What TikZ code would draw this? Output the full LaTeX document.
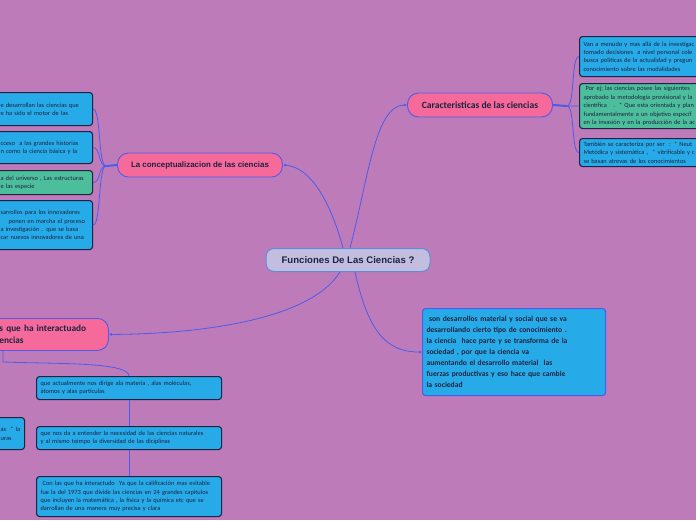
\documentclass[tikz,border=0pt]{standalone}
\usepackage{fontspec}
\setmainfont{Carlito}
\newfontfamily\arialfont{Liberation Sans}
\usetikzlibrary{arrows.meta}
\usetikzlibrary{calc}

\definecolor{bgmauve}{HTML}{BE7BBA}
\definecolor{boxblue}{HTML}{27ABE8}
\definecolor{boxgreen}{HTML}{4DBE9B}
\definecolor{topicpink}{HTML}{F56A9B}
\definecolor{rootfill}{HTML}{C3BEDF}
\definecolor{rootline}{HTML}{5A8ED8}
\definecolor{linkblue}{HTML}{4C5CEA}
\definecolor{inkdark}{HTML}{1D2340}

\begin{document}
\begin{tikzpicture}[x=1pt, y=-1pt,
  box/.style={draw=inkdark, line width=1.1pt, rounded corners=3pt, fill=boxblue, anchor=north west, align=left, inner xsep=4pt, inner ysep=2pt, text=inkdark, font=\fontsize{6.4}{8.4}\selectfont},
  greenbox/.style={box, fill=boxgreen},
  topic/.style={draw=linkblue, line width=0.9pt, rounded corners=11pt, fill=topicpink, text=inkdark, minimum height=24pt},
  link/.style={draw=linkblue, line width=0.8pt},
  tolink/.style={link, -{Latex[length=3pt,width=3pt]}}]
\fill[bgmauve] (0,0) rectangle (696,520);
\useasboundingbox (0,0) rectangle (696,520);

\node[draw=rootline, line width=1pt, rounded corners=8pt, fill=rootfill, minimum width=164pt, minimum height=23pt, text=inkdark, font=\arialfont\bfseries\fontsize{9.6}{11}\selectfont] (root) at (348,260) {Funciones De Las Ciencias ?};

\node[topic, minimum width=165pt, font=\arialfont\bfseries\fontsize{7.9}{9}\selectfont] (concept) at (200,165) {La conceptualizacion de las ciencias};
\node[topic, minimum width=145pt, font=\bfseries\fontsize{9.6}{11}\selectfont] (traits) at (480,105) {Caracteristicas de las ciencias};
\node[topic, anchor=north west, minimum height=32pt, text width=130pt, inner xsep=4pt, align=left, font=\bfseries\fontsize{9.3}{11.5}\selectfont] (contacts) at (-30,318) {\hspace*{25pt}s que ha interactuado\\\hspace*{25pt}encias};

% ramas de la izquierda
\node[box, text width=88pt, minimum height=33pt] (lefta) at (-4,92) {e desarrollan las ciencias que\\e ha sido el motor de las};
\node[box, text width=88pt, minimum height=32pt] (leftb) at (-4,131) {cceso\ \ a las grandes historias\\n como la ciencia básica y la};
\node[greenbox, text width=88pt, minimum height=24pt] (leftc) at (-4,170) {a del universo , Las estructuras\\e las especie};
\node[box, text width=88pt, minimum height=49pt] (leftd) at (-4,200) {sarrollos para los innovadores\\\mbox{\hspace*{8pt}ponen en marcha el proceso}\\a investigación . que se basa\\car nuevos innovadores de una};

% ramas de la derecha
\node[box, text width=132pt, minimum height=40pt] (righta) at (579,36) {Van a menudo y mas allá de la investigac\\tomado decisiones\ \ a nivel personal cole\\busca politicas de la actualidad y pregun\\conocimiento sobre las modalidades};
\node[greenbox, text width=132pt, minimum height=45pt] (rightb) at (579,83) {\ Por ej; las ciencias posee las siguientes\\aprobado la metodología provisional y la\\científica\ \ \ .\ \ * Que esta orientada y plan\\fundamentalmente a un objetivo específ\\en la invasión y en la producción de la ac};
\node[box, text width=132pt, minimum height=28pt] (rightc) at (579,138) {También se caracteriza por ser\ \ : * Neut\\Metódica y sistemática ,\ \ * vitrificable y c\\se basan atrevas de los conocimientos};

% abajo
\node[box, text width=177pt, minimum height=23pt] (lowa) at (36,376) {que actualmente nos dirige ala materia , alas moléculas,\\átomos y alas partículas};
\node[box, text width=177pt, minimum height=23pt] (lowb) at (36,426) {que nos da a entender la necesidad de las ciencias naturales\\y al mismo teimpo la diversidad de las diciplinas};
\node[box, text width=177pt, minimum height=40pt] (lowc) at (36,476) {\ Con las que ha interactudo\ \ Ya que la calificación mas evitable\\fue la del 1973 que divide las ciencias en 24 grandes capitulos\\que incluyen la matemática , la fisica y la química etc que se\\darrollan de una manera muy precisa y clara};
\node[box, text width=20pt, minimum height=32pt] (lowside) at (-4,417) {as\ \ * la\\uras};

\node[box, draw=linkblue, text width=175pt, minimum height=87pt, font=\bfseries\fontsize{7.6}{11}\selectfont] (society) at (422,308) {\ son desarrollos material y social que se va\\desarrollando cierto tipo de conocimiento .\\la ciencia\ \ hace parte y se transforma de la\\sociedad , por que la ciencia va\\aumentando el desarrollo material\ \ las\\fuerzas productivas y eso hace que cambie\\la sociedad};

\coordinate (leftfork) at (106,166);
\coordinate (rightfork) at (567,106);
\coordinate (bend) at (3,362);

\draw[link, line width=2pt] (concept.west) -- (leftfork);
\foreach \b in {lefta,leftb,leftc,leftd}
  \draw[link] (leftfork) .. controls +(-8,0) and +(8,0) .. (\b.east);
\draw[link, line width=2pt] (traits.east) -- (rightfork);
\foreach \b in {righta,rightb,rightc}
  \draw[link] (rightfork) .. controls +(8,0) and +(-8,0) .. (\b.west);

\draw[link] (contacts.south -| bend) -- (bend) .. controls (60,364) and (128,362) .. (lowa.north);
\draw[link] (lowa.south) -- (lowb.north);
\draw[link] (lowb.south) -- (lowc.north);

\draw[tolink] ([xshift=-5pt]root.north) .. controls (330,200) and (310,167) .. (concept.east);
\draw[tolink] ([xshift=2pt]root.north) .. controls (368,180) and (375,105) .. (traits.west);
\draw[tolink] ([xshift=-8pt]root.south) .. controls (310,320) and (200,334) .. (contacts.east);
\draw[tolink] ([xshift=7pt]root.south) .. controls (368,330) and (385,352) .. (society.west);
\end{tikzpicture}
\end{document}
